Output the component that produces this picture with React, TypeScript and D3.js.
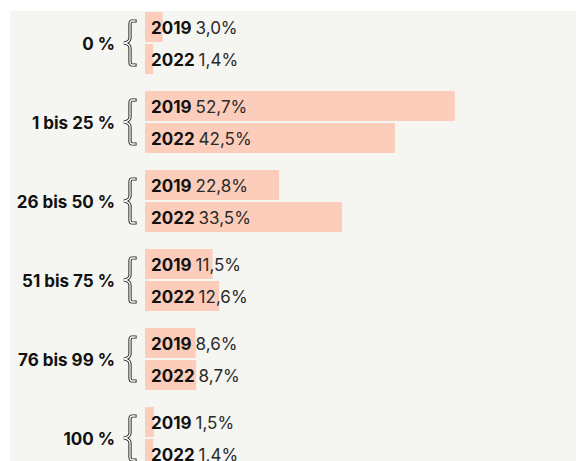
import React from "react";
import * as d3 from "d3";

const categories = ["0 %", "1 bis 25 %", "26 bis 50 %", "51 bis 75 %", "76 bis 99 %", "100 %"];
const years = ["2019", "2022"];
const values2019 = [3.0, 52.7, 22.8, 11.5, 8.6, 1.5];
const values2022 = [1.4, 42.5, 33.5, 12.6, 8.7, 1.4];

const W = 576;
const H = 453;
const FONT = "Inter, 'Noto Sans', sans-serif";

function fmt(v: number) {
  return v.toFixed(1).replace(".", ",") + "%";
}

export default function App() {
  const series = [values2019, values2022];
  const barX0 = 137;
  const x = d3.scaleLinear().domain([0, 100]).range([0, 588]);
  const y = d3
    .scaleBand<string>()
    .domain(categories)
    .range([4, 4 + 79 * categories.length])
    .paddingInner(0)
    .paddingOuter(0);
  const barH = 30;
  const gap = 2;

  const brace = (cx: number, cy: number) => {
    const h = 22;
    const p = d3.path();
    p.moveTo(cx + 5, cy - h);
    p.lineTo(cx + 2, cy - h);
    p.quadraticCurveTo(cx, cy - h, cx, cy - h + 3);
    p.lineTo(cx, cy - 5);
    p.quadraticCurveTo(cx, cy - 1, cx - 6, cy);
    p.quadraticCurveTo(cx, cy + 1, cx, cy + 5);
    p.lineTo(cx, cy + h - 3);
    p.quadraticCurveTo(cx, cy + h, cx + 2, cy + h);
    p.lineTo(cx + 5, cy + h);
    return p.toString();
  };

  return (
    <svg width={W} height={H} style={{ display: "block" }}>
      <rect x={2} y={3} width={W - 2} height={H - 3} fill="#f5f5f1" />
      {categories.map((c, i) => {
        const top = y(c)!;
        const mid = top + barH + gap / 2;
        return (
          <g key={c}>
            <text
              x={107}
              y={mid + 1}
              textAnchor="end"
              dominantBaseline="central"
              fontFamily={FONT}
              fontWeight={700}
              fontSize={17}
              fill="#111"
            >
              {c}
            </text>
            <path d={brace(122, mid)} fill="none" stroke="#222" strokeWidth={3.2} strokeLinecap="square" />
            <path d={brace(122, mid)} fill="none" stroke="#ffffff" strokeWidth={1.3} strokeLinecap="square" />
            {series.map((vals, j) => {
              const by = top + j * (barH + gap);
              return (
                <g key={j}>
                  <rect x={barX0} y={by} width={x(vals[i])} height={barH} fill="#fbcdba" />
                  <text
                    x={barX0 + 6}
                    y={by + barH / 2 + 1}
                    dominantBaseline="central"
                    fontFamily={FONT}
                    fontSize={17}
                  >
                    <tspan fontWeight={700} fill="#111">{years[j]}</tspan>
                    <tspan fill="#2a2a2a" dx={4}>{fmt(vals[i])}</tspan>
                  </text>
                </g>
              );
            })}
          </g>
        );
      })}
    </svg>
  );
}
